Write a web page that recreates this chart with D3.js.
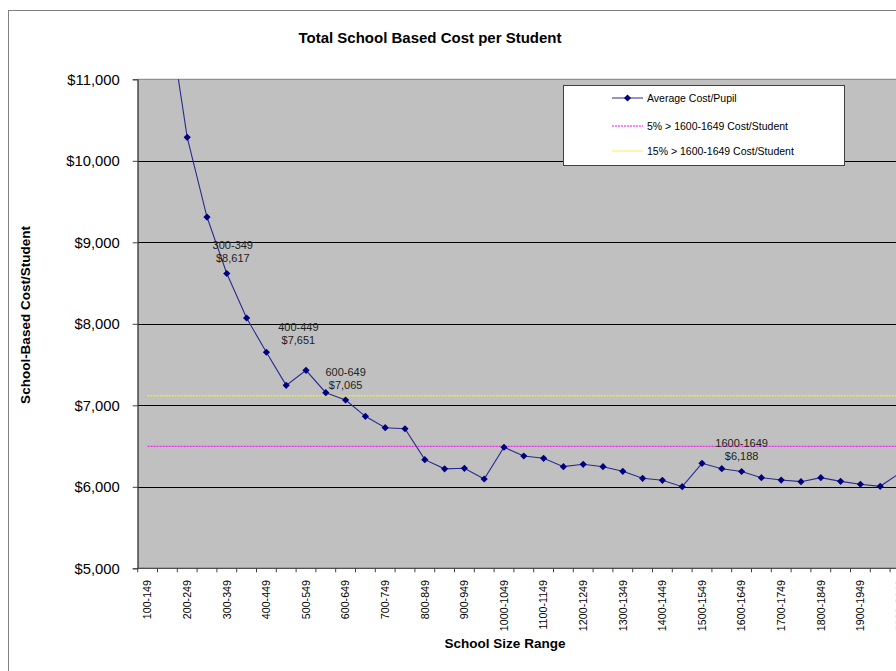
<!DOCTYPE html>
<html>
<head>
<meta charset="utf-8">
<script src="https://cdn.jsdelivr.net/npm/d3@7/dist/d3.min.js"></script>
<style>
  html, body { margin: 0; padding: 0; background: #fff; overflow: hidden; }
  text { font-family: Arial, "Liberation Sans", sans-serif; }
</style>
</head>
<body>
<svg id="chart" width="896" height="671"></svg>
<script>
// ---- data ----
const categories = [
  "100-149","150-199","200-249","250-299","300-349","350-399","400-449","450-499",
  "500-549","550-599","600-649","650-699","700-749","750-799","800-849","850-899",
  "900-949","950-999","1000-1049","1050-1099","1100-1149","1150-1199","1200-1249",
  "1250-1299","1300-1349","1350-1399","1400-1449","1450-1499","1500-1549","1550-1599",
  "1600-1649","1650-1699","1700-1749","1750-1799","1800-1849","1850-1899","1900-1949",
  "1950-1999","2000-2049"
];
const avgCost = [
  13200, 11890, 10288, 9310, 8617, 8071, 7651, 7245,
  7429, 7155, 7065, 6865, 6725, 6712, 6333, 6220,
  6227, 6096, 6485, 6378, 6350, 6247, 6276,
  6247, 6190, 6104, 6080, 6001, 6288, 6222,
  6188, 6112, 6083, 6063, 6112, 6067, 6031,
  6006, 6170
];
const refNames = ["5% > 1600-1649 Cost/Student", "15% > 1600-1649 Cost/Student"];
const refValues = [6497, 7116];
const seriesName = "Average Cost/Pupil";
const yTicks = [5000, 6000, 7000, 8000, 9000, 10000, 11000];
const labeledCats = ["300-349", "400-449", "600-649", "1600-1649"];

// ---- layout ----
const svg = d3.select("#chart");
const plot = { left: 137.7, top: 79.3, bottom: 568.3, step: 19.8 };
plot.right = plot.left + plot.step * categories.length;

const x = d3.scaleBand().domain(categories).range([plot.left, plot.right]).padding(0);
const y = d3.scaleLinear().domain([5000, 11000]).range([plot.bottom, plot.top]);
const cx = c => x(c) + x.bandwidth() / 2;

// outer chart border
svg.append("rect").attr("x", 8.5).attr("y", 10.5).attr("width", 1000).attr("height", 1000)
  .attr("fill", "#fff").attr("stroke", "#808080").attr("stroke-width", 1);

// plot area
svg.append("rect").attr("x", plot.left).attr("y", plot.top)
  .attr("width", plot.right - plot.left).attr("height", plot.bottom - plot.top)
  .attr("fill", "#c0c0c0").attr("stroke", "#808080").attr("stroke-width", 1);

svg.append("defs").append("clipPath").attr("id", "clip").append("rect")
  .attr("x", plot.left).attr("y", plot.top)
  .attr("width", plot.right - plot.left).attr("height", plot.bottom - plot.top);

// gridlines
svg.append("g").selectAll("line").data(yTicks.filter(v => v > 5000 && v < 11000)).join("line")
  .attr("x1", plot.left).attr("x2", plot.right)
  .attr("y1", d => Math.round(y(d)) + 0.5).attr("y2", d => Math.round(y(d)) + 0.5)
  .attr("stroke", "#000").attr("stroke-width", 1);

// y axis
const yAxis = d3.axisLeft(y).tickValues(yTicks).tickSize(5).tickPadding(13)
  .tickFormat(d => "$" + d3.format(",")(d));
const gy = svg.append("g").attr("transform", `translate(${plot.left},0)`).call(yAxis);
gy.select(".domain").attr("stroke", "#404040");
gy.selectAll(".tick line").attr("stroke", "#404040");
gy.selectAll(".tick text").attr("font-size", "14.8px").attr("fill", "#000")
  .attr("font-family", "Arial, 'Liberation Sans', sans-serif");

// x axis (ticks at category boundaries)
const gx = svg.append("g");
gx.append("line").attr("x1", plot.left).attr("x2", plot.right)
  .attr("y1", plot.bottom).attr("y2", plot.bottom).attr("stroke", "#404040");
gx.selectAll("line.tk").data(categories.concat(["__end"])).join("line").attr("class", "tk")
  .attr("x1", (d, i) => i < categories.length ? x(d) : plot.right)
  .attr("x2", (d, i) => i < categories.length ? x(d) : plot.right)
  .attr("y1", plot.bottom).attr("y2", plot.bottom + 4).attr("stroke", "#404040");
gx.selectAll("text").data(categories.filter((d, i) => i % 2 === 0)).join("text")
  .attr("transform", d => `translate(${cx(d)},${580}) rotate(-90)`)
  .attr("text-anchor", "end").attr("dy", "0.35em")
  .attr("font-size", "10.7px").attr("fill", "#000").text(d => d);

// reference lines
const refColors = ["#ff00ff", "#ffff00"];
const refG = svg.append("g").attr("clip-path", "url(#clip)");
refValues.forEach((v, i) => {
  refG.append("line")
    .attr("x1", cx(categories[0])).attr("x2", cx(categories[categories.length - 1]))
    .attr("y1", y(v)).attr("y2", y(v))
    .attr("stroke", refColors[i]).attr("stroke-width", 1).attr("stroke-dasharray", "2,1");
});

// main series
const pts = categories.map((c, i) => ({ c, v: avgCost[i] }));
const lineG = svg.append("g").attr("clip-path", "url(#clip)");
lineG.append("path").datum(pts)
  .attr("d", d3.line().x(d => cx(d.c)).y(d => y(d.v)))
  .attr("fill", "none").attr("stroke", "#2a2a90").attr("stroke-width", 1.1);
const diamond = "M0,-3.6L3.6,0L0,3.6L-3.6,0Z";
lineG.selectAll("path.m").data(pts).join("path").attr("class", "m")
  .attr("d", diamond).attr("transform", d => `translate(${cx(d.c)},${y(d.v)})`)
  .attr("fill", "#000080");

// data labels
const labelOffsets = { "300-349": [6, -24.5], "400-449": [32, -21], "600-649": [0, -24], "1600-1649": [0, -24] };
const lblG = svg.append("g");
labeledCats.forEach(c => {
  const i = categories.indexOf(c);
  const [dx, dy] = labelOffsets[c];
  const t = lblG.append("text").attr("text-anchor", "middle")
    .attr("font-size", "11px").attr("fill", "#222");
  t.append("tspan").attr("x", cx(c) + dx).attr("y", y(avgCost[i]) + dy).text(c);
  t.append("tspan").attr("x", cx(c) + dx).attr("y", y(avgCost[i]) + dy + 13)
    .text("$" + d3.format(",")(avgCost[i]));
});

// titles
svg.append("text").attr("x", 430).attr("y", 43).attr("text-anchor", "middle")
  .attr("font-size", "15px").attr("font-weight", "bold").attr("fill", "#000")
  .text("Total School Based Cost per Student");
svg.append("text").attr("x", 505).attr("y", 648).attr("text-anchor", "middle")
  .attr("font-size", "13.5px").attr("font-weight", "bold").attr("fill", "#000")
  .text("School Size Range");
svg.append("text").attr("transform", "translate(30,315) rotate(-90)").attr("text-anchor", "middle")
  .attr("font-size", "13.5px").attr("font-weight", "bold").attr("fill", "#000")
  .text("School-Based Cost/Student");

// legend
const lg = svg.append("g");
lg.append("rect").attr("x", 563.5).attr("y", 85.5).attr("width", 281).attr("height", 80)
  .attr("fill", "#fff").attr("stroke", "#404040").attr("stroke-width", 1);
const legendRows = [
  { name: seriesName, color: "#2a2a90", dash: null, marker: true },
  { name: refNames[0], color: refColors[0], dash: "2,1", marker: false },
  { name: refNames[1], color: "#f0f060", dash: null, marker: false }
];
const rowY = [98, 126, 151];
legendRows.forEach((r, i) => {
  lg.append("line").attr("x1", 612).attr("x2", 643).attr("y1", rowY[i]).attr("y2", rowY[i])
    .attr("stroke", r.color).attr("stroke-width", 1).attr("stroke-dasharray", r.dash);
  if (r.marker) lg.append("path").attr("d", diamond)
    .attr("transform", `translate(627.5,${rowY[i]})`).attr("fill", "#000080");
  lg.append("text").attr("x", 647).attr("y", rowY[i]).attr("dy", "0.35em")
    .attr("font-size", "10.5px").attr("fill", "#000").text(r.name);
});
</script>
</body>
</html>
